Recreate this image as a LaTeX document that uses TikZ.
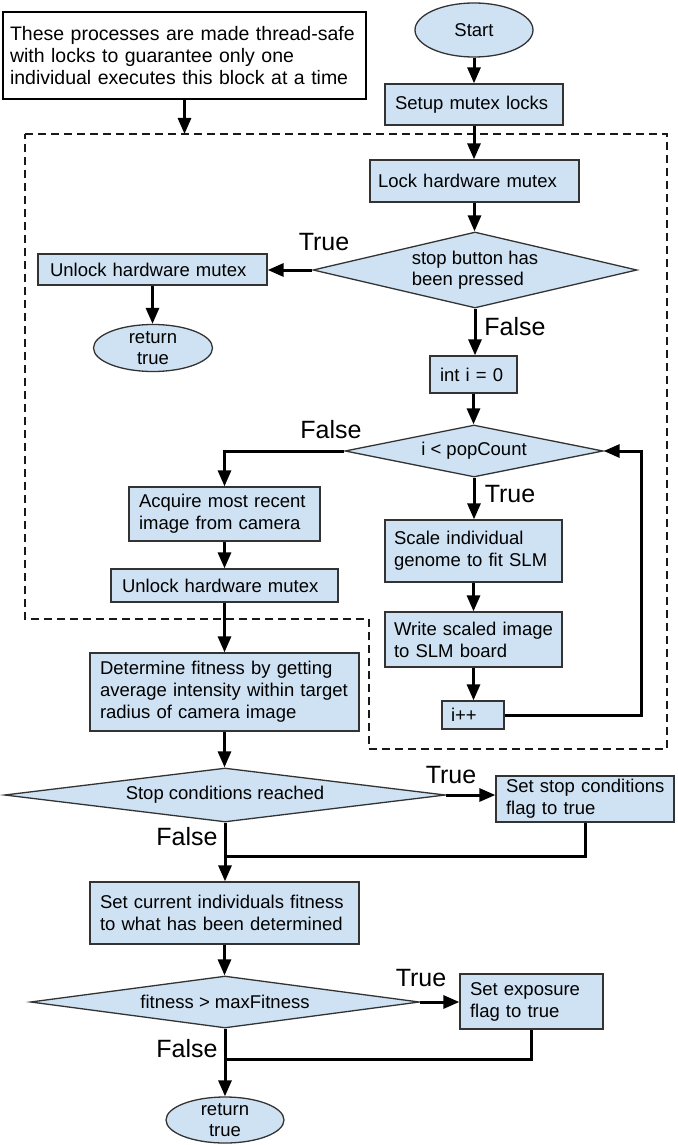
\documentclass[tikz,border=0pt]{standalone}
\usepackage{fontspec}
\setmainfont{Liberation Sans}
\usetikzlibrary{shapes.geometric,arrows.meta}
\definecolor{boxfill}{HTML}{CFE2F3}
\definecolor{boxline}{HTML}{333333}
\newcommand{\oneline}[1]{\mbox{#1}}
\tikzset{
 base/.style={font=\fontsize{18.5}{22}\selectfont, text=black},
 proc/.style={base, rectangle, draw=boxline, fill=boxfill, line width=1.3pt, align=left, inner ysep=1pt},
 dec/.style={base, diamond, draw=boxline, fill=boxfill, line width=1.3pt, inner sep=0pt, align=left, font=\fontsize{18.5}{21}\selectfont},
 term/.style={base, ellipse, draw=boxline, fill=boxfill, line width=1.3pt, inner xsep=0pt, inner ysep=-6pt, align=center, font=\fontsize{18.5}{21}\selectfont},
 notebox/.style={rectangle, draw=black, fill=white, line width=1.4pt, align=left, inner ysep=1pt, font=\fontsize{19.5}{22}\selectfont},
 lbl/.style={font=\fontsize{25}{30}\selectfont, inner sep=0pt},
 arr/.style={line width=3pt, -{Triangle[length=16pt,width=13pt]}},
 conn/.style={line width=3pt},
 region/.style={draw=black!90, line width=1.3pt, dash pattern=on 8pt off 5pt},
}
\begin{document}
\begin{tikzpicture}[x=1pt,y=-1pt]
\fill[white] (0,0) rectangle (677,1145);
\useasboundingbox (0,0) rectangle (677,1145);

% dashed region
\draw[region] (25,134) -- (667,134) -- (667,749) -- (369,749) -- (369,619) -- (25,619) -- cycle;

% note
\node[notebox, text width=349pt, inner xsep=7pt, minimum height=87pt] (note) at (184.5,55.5)
  {\oneline{These processes are made thread-safe}\\\oneline{with locks to guarantee only one}\\\oneline{individual executes this block at a time}};
\coordinate (dtop) at (184.5,134);

% main column
\node[term, minimum width=118pt, minimum height=54pt] (start) at (474,30) {Start};
\node[proc, text width=158pt, inner xsep=10pt, minimum height=41pt] (setup) at (474,104.5) {\oneline{Setup mutex locks}};
\node[proc, text width=193pt, inner xsep=8pt, minimum height=42pt] (lock) at (474.5,181) {\oneline{Lock hardware mutex}};
\node[dec, aspect=4.26, minimum width=324pt, minimum height=76pt] (d1) at (475,270) {stop button has\\been pressed};
\node[proc, text width=205pt, inner xsep=12pt, minimum height=31pt] (unlock1) at (152.5,269.5) {\oneline{Unlock hardware mutex}};
\node[term, minimum width=119pt, minimum height=47pt] (ret1) at (153,348) {return\\true};
\node[proc, text width=67pt, inner xsep=10pt, minimum height=37pt] (init) at (473.5,374.5) {\oneline{int i = 0}};
\node[dec, aspect=4.96, minimum width=258pt, minimum height=52pt] (d2) at (474,451) {i < popCount};
\node[proc, text width=171pt, inner xsep=10pt, minimum height=54pt] (acq) at (224.5,514) {\oneline{Acquire most recent}\\\oneline{image from camera}};
\node[proc, text width=205pt, inner xsep=11pt, minimum height=33pt] (unlock2) at (224.5,585.5) {\oneline{Unlock hardware mutex}};
\node[proc, text width=159pt, inner xsep=9pt, minimum height=62pt] (scale) at (473.5,551) {\oneline{Scale individual}\\\oneline{genome to fit SLM}};
\node[proc, text width=159pt, inner xsep=9pt, minimum height=55pt] (write) at (473.5,639.5) {\oneline{Write scaled image}\\\oneline{to SLM board}};
\node[proc, text width=44pt, inner xsep=9pt, minimum height=28pt] (inc) at (473,715) {\oneline{i++}};
\node[proc, text width=249pt, inner xsep=10pt, minimum height=78pt] (fit) at (224.5,692) {\oneline{Determine fitness by getting}\\\oneline{average intensity within target}\\\oneline{radius of camera image}};
\node[dec, aspect=8.17, minimum width=441pt, minimum height=54pt] (d3) at (225,795) {Stop conditions reached};
\node[proc, text width=158pt, inner xsep=10pt, minimum height=46pt] (setstop) at (585,799) {\oneline{Set stop conditions}\\\oneline{flag to true}};
\node[proc, text width=249pt, inner xsep=10pt, minimum height=62pt] (setcur) at (224.5,913) {\oneline{Set current individuals fitness}\\\oneline{to what has been determined}};
\node[dec, aspect=7.48, minimum width=389pt, minimum height=52pt] (d4) at (225,1002) {fitness > maxFitness};
\node[proc, text width=123pt, inner xsep=10pt, minimum height=55pt] (setexp) at (531.5,1001.5) {\oneline{Set exposure}\\\oneline{flag to true}};
\node[term, minimum width=118pt, minimum height=46pt] (ret2) at (225,1120) {return\\true};

\coordinate (loopx) at (641,0);
\coordinate (merge1) at (225,856);
\coordinate (merge2) at (225,1059);

% connectors
\draw[arr] (note.south) -- (dtop);
\draw[arr] (start.south) -- (start.south |- setup.north);
\draw[arr] (setup.south) -- (setup.south |- lock.north);
\draw[arr] (lock.south) -- (lock.south |- d1.north);
\draw[arr] (d1.west) -- (d1.west -| unlock1.east);
\draw[arr] (unlock1.south) -- (unlock1.south |- ret1.north);
\draw[arr] (d1.south) -- (d1.south |- init.north);
\draw[arr] (init.south) -- (init.south |- d2.north);
\draw[arr] (d2.west) -| (acq.north);
\draw[arr] (acq.south) -- (acq.south |- unlock2.north);
\draw[arr] (unlock2.south) -- (unlock2.south |- fit.north);
\draw[arr] (d2.south) -- (d2.south |- scale.north);
\draw[arr] (scale.south) -- (scale.south |- write.north);
\draw[arr] (write.south) -- (write.south |- inc.north);
\draw[arr] (inc.east) -- (inc.east -| loopx) |- (d2.east);
\draw[arr] (fit.south) -- (fit.south |- d3.north);
\draw[arr] (d3.east) -- (d3.east -| setstop.west);
\draw[conn] (setstop.south) |- (merge1);
\draw[arr] (d3.south) -- (d3.south |- setcur.north);
\draw[arr] (setcur.south) -- (setcur.south |- d4.north);
\draw[arr] (d4.east) -- (d4.east -| setexp.west);
\draw[conn] (setexp.south) |- (merge2);
\draw[arr] (d4.south) -- (d4.south |- ret2.north);

% branch labels
\node[lbl] (t1) at (324,242) {True};
\node[lbl] (f1) at (515,327) {False};
\node[lbl] (f2) at (331,430) {False};
\node[lbl] (t2) at (510,494) {True};
\node[lbl] (t3) at (451,775) {True};
\node[lbl] (f3) at (187,837) {False};
\node[lbl] (t4) at (421,978) {True};
\node[lbl] (f4) at (187,1049) {False};
\end{tikzpicture}
\end{document}
